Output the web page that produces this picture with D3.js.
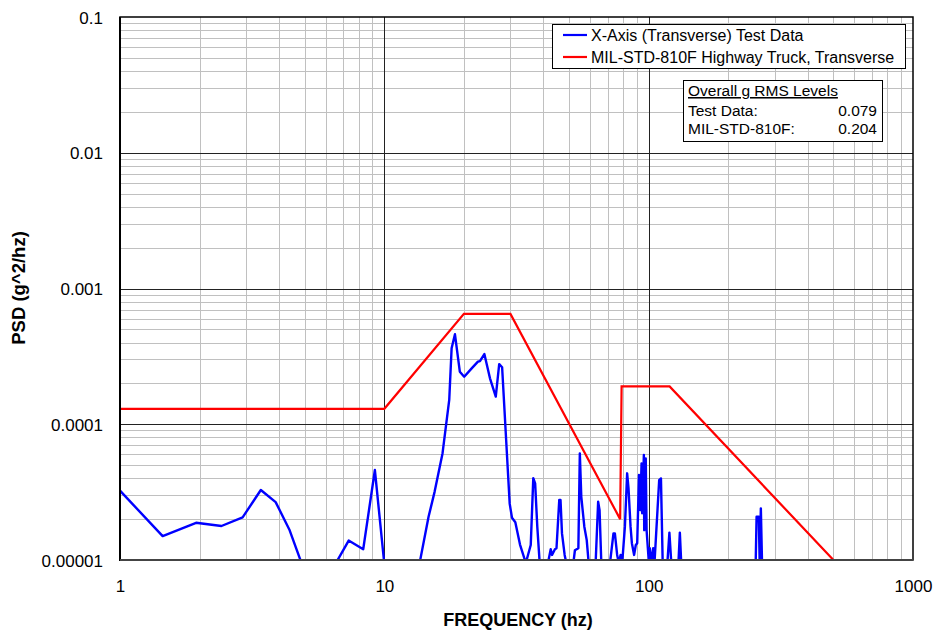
<!DOCTYPE html>
<html>
<head>
<meta charset="utf-8">
<script src="https://cdn.jsdelivr.net/npm/d3@7"></script>
<style>
  body { margin: 0; background: #fff; }
  svg { display: block; font-family: "Liberation Sans", Arial, sans-serif; }
</style>
</head>
<body>
<svg id="chart" width="935" height="631"></svg>
<script>
// Measured transverse PSD (X-axis test data), frequency in Hz and PSD in g^2/Hz.
// Values below 1e-5 fall under the plotted floor and are clipped.
const testFreq = [
  1, 1.45, 1.94, 2.42, 2.91, 3.41, 3.88, 4.37, 4.86, 6.56, 7.33, 8.32, 9.21, 9.99,
  13.6, 14.7, 15.5, 16.6, 17.6, 17.97, 18.5, 19.3, 20.05, 21.4, 22.6, 23.0, 23.9, 25.1, 26.4, 27.2, 27.9,
  29.8, 30.4, 31.3, 32.6, 34.3, 35.8, 36.6, 37.2, 37.9, 38.7, 41.6, 42.6, 43.1, 44.2, 44.8,
  45.9, 46.4, 47.0, 48.1, 48.8, 51.9, 52.6, 54.2, 54.9, 55.6, 57.1, 58.3, 59.3,
  63.0, 64.4, 65.2, 66.2, 71.4, 73.6, 74.5, 76.0, 77.1, 78.3, 79.4,
  81.3, 82.9, 83.9, 85.4, 86.4, 88.1, 89.4, 90.5, 91.9, 92.9, 94.0, 94.5, 95.9, 96.2, 97.5, 98.2,
  100.2, 101.0, 102.5, 104.0, 105.2, 109.6, 111.3, 113, 117.7, 119.8, 121.8, 129.6, 131.2, 132.8,
  254, 256, 261, 263, 265.7, 268.5
];
const testPsd = [
  3.24e-5, 1.5e-5, 1.88e-5, 1.78e-5, 2.06e-5, 3.28e-5, 2.67e-5, 1.68e-5, 9.5e-6, 9.5e-6, 1.39e-5, 1.2e-5, 4.6e-5, 9.5e-6,
  9.5e-6, 2.08e-5, 3.19e-5, 6.1e-5, 1.51e-4, 3.63e-4, 4.6e-4, 2.44e-4, 2.24e-4, 2.58e-4, 2.89e-4, 2.92e-4, 3.29e-4, 2.18e-4, 1.6e-4, 2.77e-4, 2.63e-4,
  2.6e-5, 2.05e-5, 1.9e-5, 1.3e-5, 9.5e-6, 1.29e-5, 4.0e-5, 3.67e-5, 1.76e-5, 9.5e-6, 9.5e-6, 1.2e-5, 1.09e-5, 1.2e-5, 1.22e-5,
  2.77e-5, 2.77e-5, 1.57e-5, 1.09e-5, 9.5e-6, 9.5e-6, 1.18e-5, 1.22e-5, 6.1e-5, 2.93e-5, 1.76e-5, 1.4e-5, 9.5e-6,
  9.5e-6, 2.69e-5, 2.33e-5, 9.5e-6, 9.5e-6, 1.57e-5, 1.57e-5, 1.09e-5, 9.5e-6, 1.09e-5, 9.5e-6,
  1.76e-5, 4.35e-5, 3.37e-5, 1.76e-5, 1.33e-5, 1.09e-5, 1.29e-5, 1.33e-5, 4.23e-5, 2.33e-5, 5.15e-5, 2.21e-5, 5.94e-5, 1.66e-5, 5.6e-5, 1.66e-5,
  9.5e-6, 1.22e-5, 9.5e-6, 1.22e-5, 9.5e-6, 3.88e-5, 3.99e-5, 9.5e-6, 9.5e-6, 1.59e-5, 9.5e-6, 9.5e-6, 1.59e-5, 9.5e-6,
  9.5e-6, 2.08e-5, 2.08e-5, 9.5e-6, 2.4e-5, 9.5e-6
];

// MIL-STD-810F highway truck, transverse axis breakpoints.
const specFreq = [1, 10, 20, 30, 78, 79, 120, 500];
const specPsd = [0.00013, 0.00013, 0.00065, 0.00065, 0.00002, 0.00019, 0.00019, 0.00001];

const xTicks = [1, 10, 100, 1000];
const xTickLabels = ["1", "10", "100", "1000"];
const yTicks = [0.00001, 0.0001, 0.001, 0.01, 0.1];
const yTickLabels = ["0.00001", "0.0001", "0.001", "0.01", "0.1"];

const seriesNames = ["X-Axis (Transverse) Test Data", "MIL-STD-810F Highway Truck, Transverse"];
const seriesColors = ["#0000ff", "#ff0000"];

const rmsTitle = "Overall g RMS Levels";
const rmsLabels = ["Test Data:", "MIL-STD-810F:"];
const rmsValues = ["0.079", "0.204"];

const svg = d3.select("#chart");
const m = { left: 120, right: 913, top: 17, bottom: 560 };

const x = d3.scaleLog().domain([1, 1000]).range([m.left, m.right]);
const y = d3.scaleLog().domain([0.00001, 0.1]).range([m.bottom, m.top]);

// minor grid values: 2..9 within each decade
const minorX = [];
[1, 10, 100].forEach(d => { for (let k = 2; k <= 9; k++) minorX.push(d * k); });
const minorY = [];
[0.00001, 0.0001, 0.001, 0.01].forEach(d => { for (let k = 2; k <= 9; k++) minorY.push(d * k); });

const grid = svg.append("g");
grid.selectAll(".mx").data(minorX).join("line")
  .attr("x1", d => Math.round(x(d)) + 0.5).attr("x2", d => Math.round(x(d)) + 0.5)
  .attr("y1", m.top).attr("y2", m.bottom)
  .attr("stroke", "#c0c0c0").attr("stroke-width", 1);
grid.selectAll(".my").data(minorY).join("line")
  .attr("y1", d => Math.round(y(d)) + 0.5).attr("y2", d => Math.round(y(d)) + 0.5)
  .attr("x1", m.left).attr("x2", m.right)
  .attr("stroke", "#c0c0c0").attr("stroke-width", 1);
grid.selectAll(".Mx").data(xTicks.slice(1, -1)).join("line")
  .attr("x1", d => Math.round(x(d)) + 0.5).attr("x2", d => Math.round(x(d)) + 0.5)
  .attr("y1", m.top).attr("y2", m.bottom)
  .attr("stroke", "#222").attr("stroke-width", 1);
grid.selectAll(".My").data(yTicks.slice(1, -1)).join("line")
  .attr("y1", d => Math.round(y(d)) + 0.5).attr("y2", d => Math.round(y(d)) + 0.5)
  .attr("x1", m.left).attr("x2", m.right)
  .attr("stroke", "#222").attr("stroke-width", 1);

// clip for series
svg.append("defs").append("clipPath").attr("id", "plotClip")
  .append("rect").attr("x", m.left).attr("y", m.top)
  .attr("width", m.right - m.left).attr("height", m.bottom - m.top);

const line = d3.line().x(d => x(d[0])).y(d => y(d[1]));

svg.append("path")
  .datum(d3.zip(specFreq, specPsd))
  .attr("clip-path", "url(#plotClip)")
  .attr("fill", "none").attr("stroke", seriesColors[1]).attr("stroke-width", 2.2)
  .attr("stroke-linejoin", "miter")
  .attr("d", line);

svg.append("path")
  .datum(d3.zip(testFreq, testPsd))
  .attr("clip-path", "url(#plotClip)")
  .attr("fill", "none").attr("stroke", seriesColors[0]).attr("stroke-width", 2.4)
  .attr("stroke-linejoin", "round")
  .attr("d", line);

// frame
svg.append("rect")
  .attr("x", m.left).attr("y", m.top)
  .attr("width", m.right - m.left).attr("height", m.bottom - m.top)
  .attr("fill", "none").attr("stroke", "#000").attr("stroke-width", 1.5);
svg.append("line").attr("x1", m.left).attr("x2", m.left).attr("y1", m.top).attr("y2", m.bottom + 1)
  .attr("stroke", "#000").attr("stroke-width", 2);
svg.append("line").attr("x1", m.left).attr("x2", m.right).attr("y1", m.bottom).attr("y2", m.bottom)
  .attr("stroke", "#444").attr("stroke-width", 2);

// axes
const xAxis = d3.axisBottom(x).tickValues(xTicks).tickFormat((d, i) => xTickLabels[i]).tickSize(0).tickPadding(0);
const gx = svg.append("g").attr("transform", `translate(0,${m.bottom})`).call(xAxis);
gx.select(".domain").remove();
gx.selectAll("text").attr("y", 32).attr("dy", 0).attr("font-size", 17)
  .attr("font-family", "'Liberation Sans', Arial, sans-serif").attr("fill", "#000");

const yAxis = d3.axisLeft(y).tickValues(yTicks).tickFormat((d, i) => yTickLabels[i]).tickSize(0).tickPadding(0);
const gy = svg.append("g").attr("transform", `translate(${m.left},0)`).call(yAxis);
gy.select(".domain").remove();
gy.selectAll("text").attr("x", -17).attr("dy", "0.36em").attr("font-size", 17)
  .attr("font-family", "'Liberation Sans', Arial, sans-serif").attr("fill", "#000");

// axis titles
svg.append("text")
  .attr("x", 518).attr("y", 626)
  .attr("text-anchor", "middle").attr("font-size", 18).attr("font-weight", "bold")
  .text("FREQUENCY (hz)");
svg.append("text")
  .attr("transform", "translate(25,288) rotate(-90)")
  .attr("text-anchor", "middle").attr("font-size", 18.5).attr("font-weight", "bold")
  .text("PSD (g^2/hz)");

// legend
const lg = svg.append("g");
lg.append("rect").attr("x", 552.5).attr("y", 24.5).attr("width", 353).attr("height", 44)
  .attr("fill", "#fff").attr("stroke", "#000").attr("stroke-width", 1);
seriesNames.forEach((name, i) => {
  const cy = 35 + i * 22;
  lg.append("line").attr("x1", 563).attr("x2", 587).attr("y1", cy).attr("y2", cy)
    .attr("stroke", seriesColors[i]).attr("stroke-width", 2.2);
  lg.append("text").attr("x", 591).attr("y", cy).attr("dy", "0.36em")
    .attr("font-size", 16).text(name);
});

// RMS summary box
const rb = svg.append("g");
rb.append("rect").attr("x", 683.5).attr("y", 80.5).attr("width", 199).attr("height", 61)
  .attr("fill", "#fff").attr("stroke", "#000").attr("stroke-width", 1);
rb.append("text").attr("x", 688).attr("y", 96).attr("font-size", 15.5)
  .attr("text-decoration", "underline").text(rmsTitle);
rmsLabels.forEach((lab, i) => {
  const by = 115.5 + i * 18.5;
  rb.append("text").attr("x", 688).attr("y", by).attr("font-size", 15.5).text(lab);
  rb.append("text").attr("x", 877).attr("y", by).attr("font-size", 15.5)
    .attr("text-anchor", "end").text(rmsValues[i]);
});
</script>
</body>
</html>
